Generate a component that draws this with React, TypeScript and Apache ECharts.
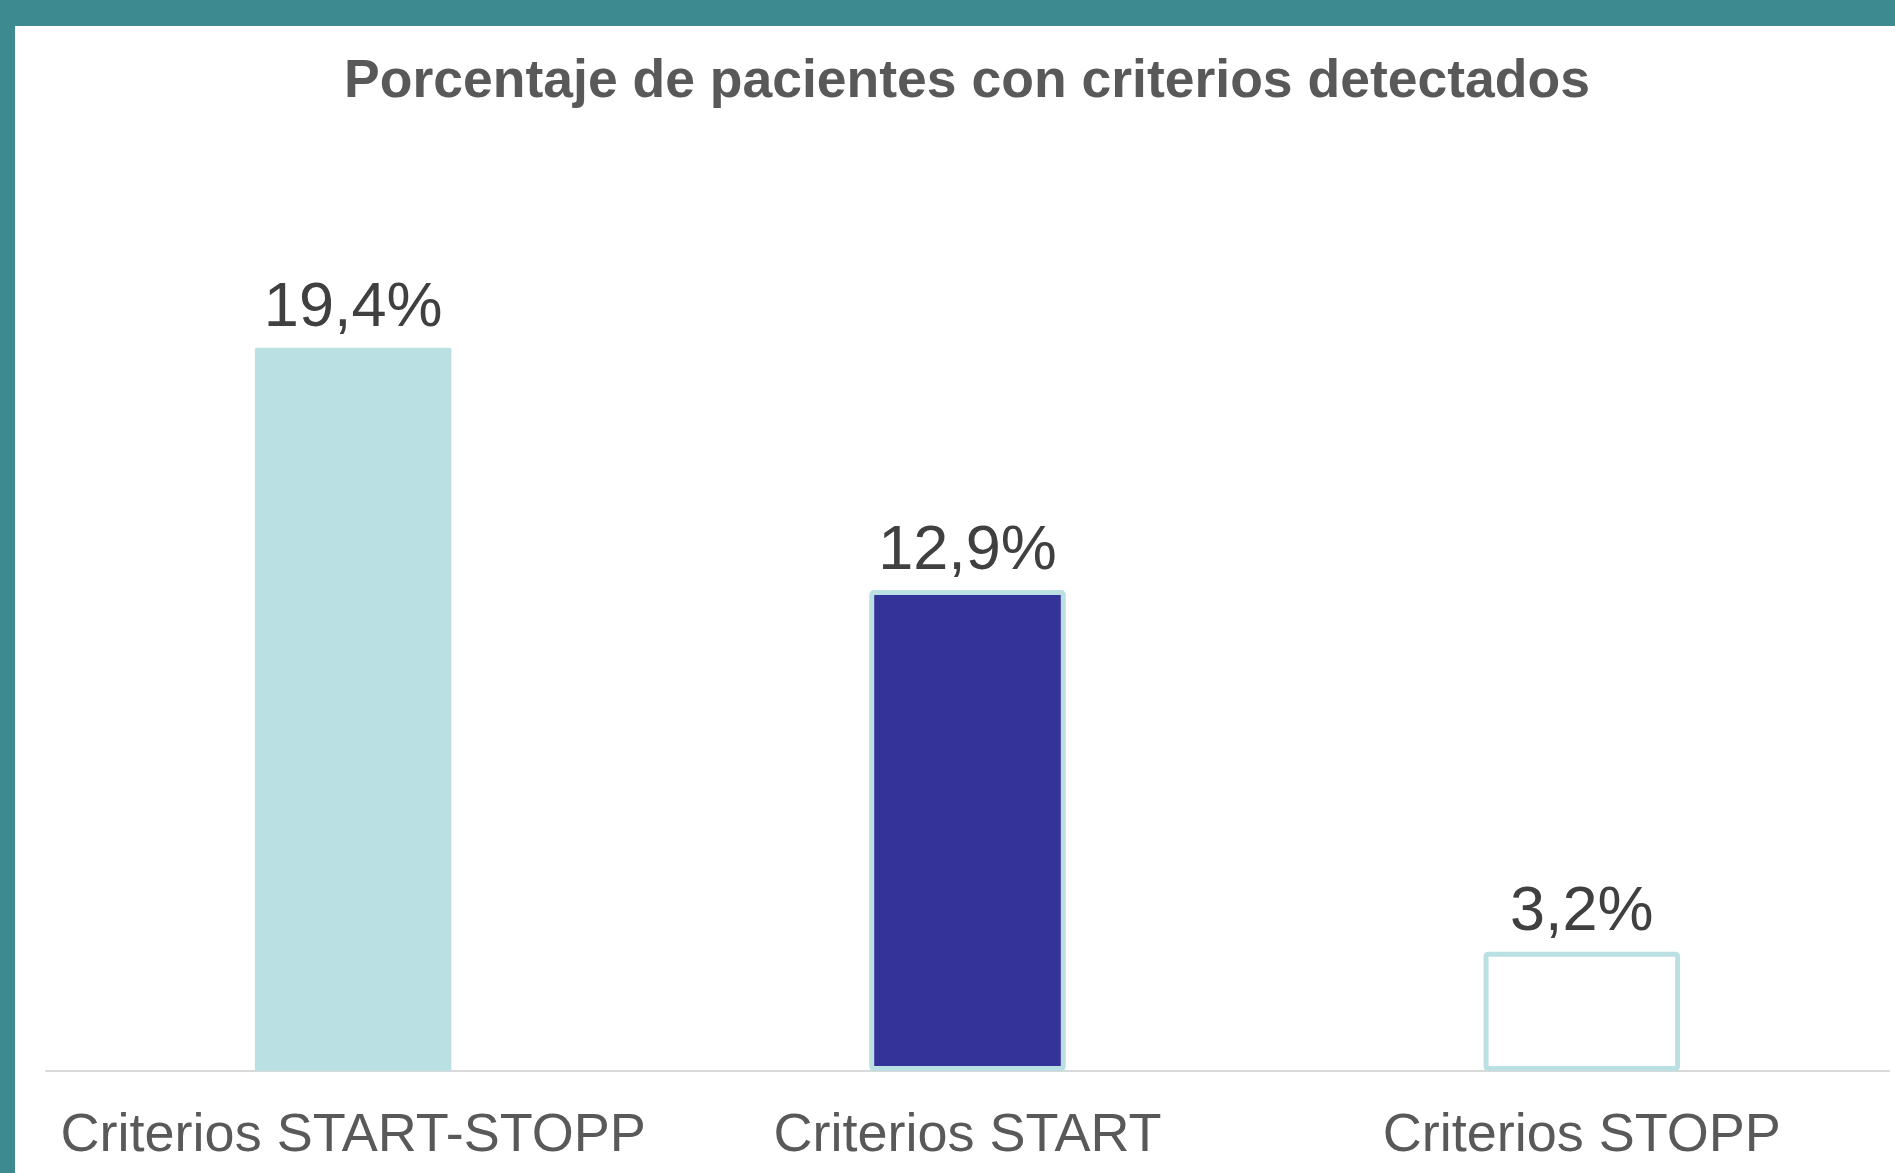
import React, { useEffect, useRef } from "react";
import * as echarts from "echarts";

const categories = ["Criterios START-STOPP", "Criterios START", "Criterios STOPP"];
const values = [19.4, 12.9, 3.2];
const labels = ["19,4%", "12,9%", "3,2%"];
const fills = ["#bbe0e3", "#343399", "#ffffff"];
const titleText = "Porcentaje de pacientes con criterios detectados";

export default function App() {
  const ref = useRef<HTMLDivElement>(null);
  useEffect(() => {
    const chart = echarts.init(ref.current!, null, { renderer: "svg" });
    chart.setOption({
      animation: false,
      backgroundColor: "#ffffff",
      graphic: [
        { type: "rect", left: 0, top: 0, shape: { width: 1895, height: 26 }, style: { fill: "#3d8b91" }, z: 100 },
        { type: "rect", left: 0, top: 0, shape: { width: 15, height: 1173 }, style: { fill: "#3d8b91" }, z: 100 },
        {
          type: "text",
          x: 967,
          y: 78,
          style: {
            text: titleText,
            fill: "#595959",
            font: "bold 53.5px 'Liberation Sans', Arial, sans-serif",
            textAlign: "center",
            textVerticalAlign: "middle",
          },
        },
      ],
      grid: { left: 46, right: 6, top: 139, bottom: 102, containLabel: false },
      xAxis: {
        type: "category",
        data: categories,
        axisLine: { show: true, lineStyle: { color: "#d9d9d9", width: 2 } },
        axisTick: { show: false },
        axisLabel: {
          color: "#595959",
          fontSize: 54,
          fontFamily: "'Liberation Sans', Arial, sans-serif",
          margin: 34,
          interval: 0,
        },
      },
      yAxis: {
        type: "value",
        min: 0,
        max: 25,
        show: false,
        splitLine: { show: false },
      },
      series: [
        {
          type: "bar",
          barWidth: "32%",
          data: values.map((v, i) => ({
            value: v,
            itemStyle: {
              color: fills[i],
              borderColor: "#bbe0e3",
              borderWidth: i === 0 ? 0 : 5,
              borderRadius: 2,
            },
          })),
          label: {
            show: true,
            position: "top",
            distance: 12,
            color: "#404040",
            fontSize: 63,
            fontFamily: "'Liberation Sans', Arial, sans-serif",
            formatter: (p: any) => labels[p.dataIndex],
          },
        },
      ],
    });
    return () => chart.dispose();
  }, []);
  return (
    <div
      ref={ref}
      style={{ position: "fixed", left: 0, top: 0, width: 1895, height: 1173 }}
    />
  );
}
